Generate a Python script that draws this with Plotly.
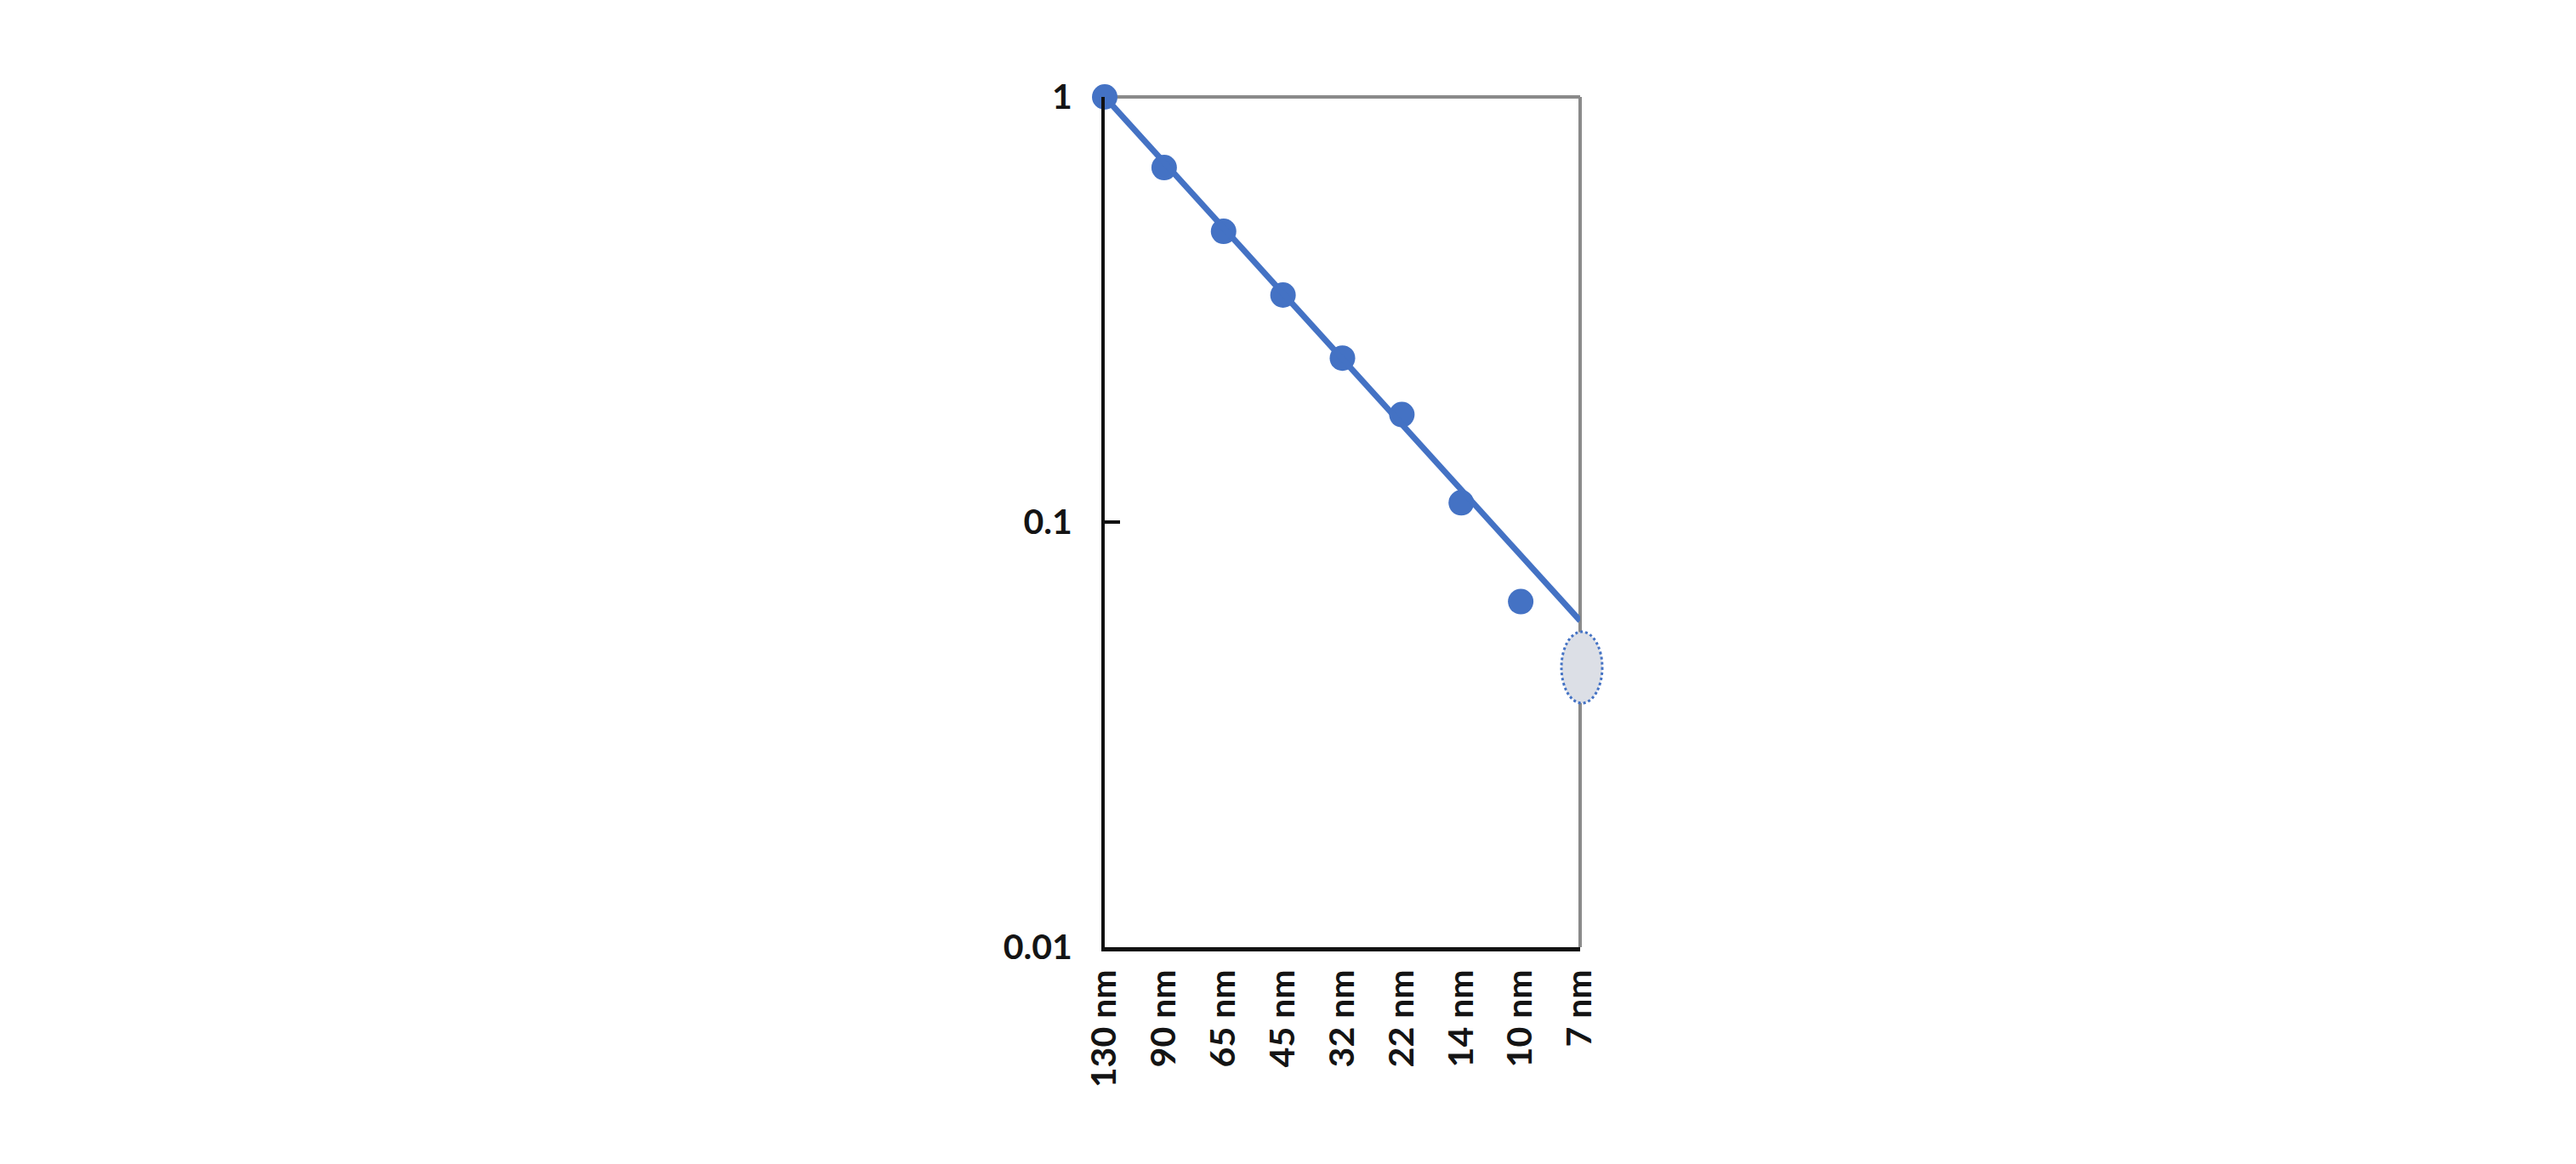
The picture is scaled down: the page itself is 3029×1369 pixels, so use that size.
import plotly.graph_objects as go

# ---- data ----
nodes = ["130 nm", "90 nm", "65 nm", "45 nm", "32 nm", "22 nm", "14 nm", "10 nm", "7 nm"]
measured_nodes = ["130 nm", "90 nm", "65 nm", "45 nm", "32 nm", "22 nm", "14 nm", "10 nm"]
measured_values = [1.0, 0.682, 0.483, 0.342, 0.243, 0.179, 0.111, 0.065]
trend_nodes = ["130 nm", "7 nm"]
trend_values = [1.0, 0.0586]
projected_node = "7 nm"
projected_low = 0.0375
projected_high = 0.0552
y_tick_values = [0.01, 0.1, 1]
y_tick_labels = ["0.01", "0.1", "1"]

BLUE = "#4472C4"
FONT = dict(family="Lato, 'Open Sans', sans-serif", size=41, color="#141414", weight=700)

# page body has an 8px default margin; compensate so the plot lands where the reference has it
PAGE_PAD = 8
W, H = 3029 - 2 * PAGE_PAD, 1369 - 2 * PAGE_PAD
PLOT_L, PLOT_R, PLOT_T, PLOT_B = 1299 - PAGE_PAD, 1858 - PAGE_PAD, 114 - PAGE_PAD, 1114 - PAGE_PAD

fig = go.Figure()

fig.add_trace(go.Scatter(
    x=measured_nodes, y=measured_values, mode="markers",
    marker=dict(size=30, color=BLUE, line=dict(width=0)),
    cliponaxis=False, showlegend=False, hoverinfo="x+y",
))
fig.add_trace(go.Scatter(
    x=trend_nodes, y=trend_values, mode="lines",
    line=dict(color=BLUE, width=7),
    cliponaxis=False, showlegend=False, hoverinfo="skip",
))

# projected range ellipse at the last node (right edge of the x domain)
proj_idx = nodes.index(projected_node)
fig.add_shape(
    type="circle", xref="paper", yref="y",
    xsizemode="pixel", xanchor=proj_idx / (len(nodes) - 1),
    x0=-22, x1=26, y0=projected_low, y1=projected_high,
    fillcolor="#dcdfe6", line=dict(color=BLUE, width=3, dash="dot"),
    layer="above",
)

# top and right frame lines (grey)
fig.add_shape(type="line", xref="x domain", yref="y domain", x0=0, x1=1, y0=1, y1=1,
              line=dict(color="#8a8a8a", width=4), layer="below")
fig.add_shape(type="line", xref="x domain", yref="y domain", x0=1, x1=1, y0=0, y1=1,
              line=dict(color="#8a8a8a", width=4), layer="below")

fig.update_xaxes(
    type="category", categoryorder="array", categoryarray=nodes,
    range=[0, len(nodes) - 1],
    showline=True, linecolor="#111111", linewidth=5,
    showgrid=False, zeroline=False, ticks="",
    tickangle=-90, tickfont=FONT, ticklabelstandoff=5,
)
fig.update_yaxes(
    type="log", range=[-2, 0],
    tickvals=y_tick_values, ticktext=y_tick_labels,
    showline=True, linecolor="#111111", linewidth=4,
    showgrid=False, zeroline=False,
    ticks="inside", ticklen=18, tickwidth=4, tickcolor="#111111",
    tickfont=FONT, ticklabelstandoff=26,
)

fig.update_layout(
    width=W, height=H,
    margin=dict(l=PLOT_L, r=W - PLOT_R, t=PLOT_T, b=H - PLOT_B),
    paper_bgcolor="white", plot_bgcolor="white",
    showlegend=False,
)

fig.write_html("out.html")
